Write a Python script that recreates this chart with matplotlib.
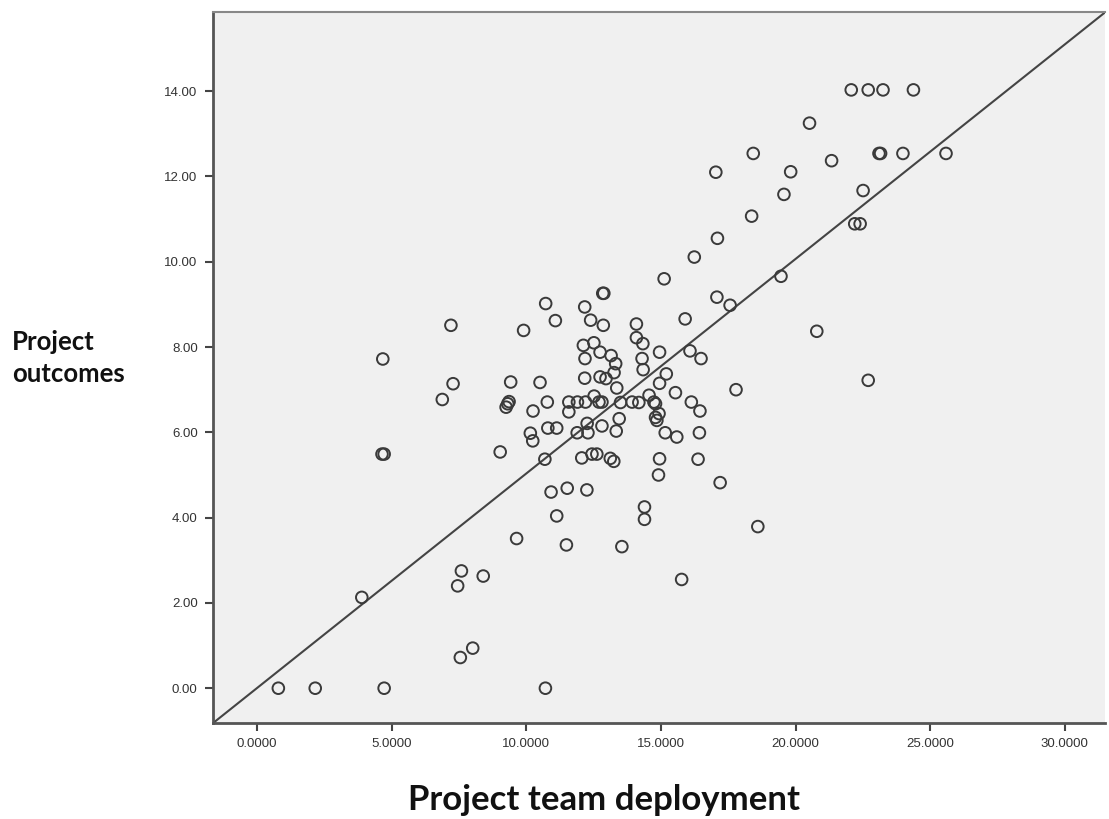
import matplotlib
matplotlib.use("Agg")
import matplotlib.pyplot as plt
from matplotlib.ticker import FormatStrFormatter

# Project team deployment (x) vs project outcomes (y)
team_deployment = [
    22.07, 22.70, 23.25, 24.38, 20.52, 18.43, 23.10, 23.16, 23.99, 25.59,
    17.04, 19.82, 21.34, 19.57, 22.51, 18.37, 22.20, 22.40, 17.10, 16.24,
    15.12, 19.46, 17.08, 17.57, 15.90, 20.79, 14.95, 16.08, 16.49, 15.20,
    22.70, 14.95, 15.54, 17.79, 14.56, 14.74, 14.80, 14.93, 14.80, 14.85,
    16.13, 16.45, 15.16, 15.59, 16.43, 14.95, 14.91, 16.38, 17.20, 14.39,
    14.39, 18.60, 15.77,
    12.84, 12.88, 10.72, 11.08, 9.90, 12.17, 12.39, 12.86, 14.09, 14.09,
    14.33, 12.12, 12.51, 12.74, 12.18, 13.15, 13.32, 13.26, 14.30, 14.34,
    12.17, 12.74, 12.96, 13.36, 9.42, 10.51, 7.28, 7.20, 4.67, 6.88,
    9.31, 9.36, 9.25, 10.78, 10.25, 11.58, 11.58, 11.90, 12.20, 12.52,
    12.70, 12.81, 13.50, 13.93, 14.18, 13.45, 13.34, 12.81, 12.26, 12.29,
    11.89, 10.80, 11.13, 10.15, 10.24, 9.03, 4.64, 4.72, 10.69, 12.06,
    12.44, 12.62, 13.12, 13.25, 10.92, 11.52, 12.25, 11.13, 9.64, 11.49,
    13.55, 3.89, 7.59, 7.45, 8.40, 8.01, 7.55, 0.79, 2.16, 4.72, 10.71,
]
outcomes = [
    14.03, 14.03, 14.03, 14.03, 13.25, 12.54, 12.54, 12.54, 12.54, 12.54,
    12.10, 12.11, 12.37, 11.58, 11.67, 11.07, 10.89, 10.89, 10.55, 10.11,
    9.60, 9.66, 9.17, 8.98, 8.66, 8.37, 7.88, 7.91, 7.73, 7.37,
    7.22, 7.15, 6.93, 7.00, 6.87, 6.71, 6.67, 6.44, 6.35, 6.28,
    6.71, 6.50, 5.99, 5.89, 5.99, 5.38, 5.00, 5.37, 4.82, 4.25,
    3.96, 3.79, 2.55,
    9.26, 9.26, 9.02, 8.62, 8.39, 8.94, 8.63, 8.51, 8.54, 8.22,
    8.08, 8.04, 8.10, 7.88, 7.73, 7.80, 7.61, 7.40, 7.73, 7.47,
    7.27, 7.30, 7.26, 7.04, 7.18, 7.17, 7.14, 8.51, 7.72, 6.77,
    6.67, 6.72, 6.59, 6.71, 6.50, 6.71, 6.48, 6.71, 6.71, 6.85,
    6.71, 6.71, 6.70, 6.71, 6.70, 6.32, 6.03, 6.15, 6.21, 5.99,
    5.99, 6.10, 6.10, 5.98, 5.80, 5.54, 5.49, 5.49, 5.37, 5.40,
    5.49, 5.49, 5.39, 5.32, 4.60, 4.69, 4.65, 4.04, 3.51, 3.36,
    3.32, 2.13, 2.75, 2.40, 2.63, 0.94, 0.72, 0.00, 0.00, 0.00, 0.00,
]

x_ticks = [0, 5, 10, 15, 20, 25, 30]
y_ticks = [0, 2, 4, 6, 8, 10, 12, 14]

fig = plt.figure(figsize=(11.09, 8.19), dpi=100)
ax = fig.add_axes([0.192, 0.117, 0.8045, 0.868])
ax.set_facecolor("#f0f0f0")

ax.scatter(team_deployment, outcomes, s=70, facecolors="none",
           edgecolors="#3a3a3a", linewidths=1.4, zorder=3)

ax.set_xlim(-1.64, 31.5)
ax.set_ylim(-0.82, 15.85)

# reference line across the plot area
ax.plot([0, 1], [0, 1], transform=ax.transAxes, color="#444444", lw=1.5, zorder=2)

ax.set_xticks(x_ticks)
ax.set_yticks(y_ticks)
ax.xaxis.set_major_formatter(FormatStrFormatter("%.4f"))
ax.yaxis.set_major_formatter(FormatStrFormatter("%.2f"))
ax.tick_params(direction="out", length=6, width=1.5, color="#444444",
               labelsize=9.5, labelcolor="#333333", pad=5)
for lab in ax.get_xticklabels() + ax.get_yticklabels():
    lab.set_family("Liberation Sans")

ax.spines["right"].set_visible(False)
ax.spines["top"].set_color("#888888")
ax.spines["top"].set_linewidth(1.5)
for side in ("left", "bottom"):
    ax.spines[side].set_color("#555555")
    ax.spines[side].set_linewidth(2)

fig.text(12 / 1109, 0.563, "Project\noutcomes", ha="left", va="center",
         fontsize=18.5, fontweight="bold", family="Lato", linespacing=1.4,
         color="#111111")
fig.text(0.545, 0.023, "Project team deployment", ha="center", va="center",
         fontsize=25, fontweight="bold", family="Lato", color="#111111")

fig.savefig("out.png", dpi=100)
